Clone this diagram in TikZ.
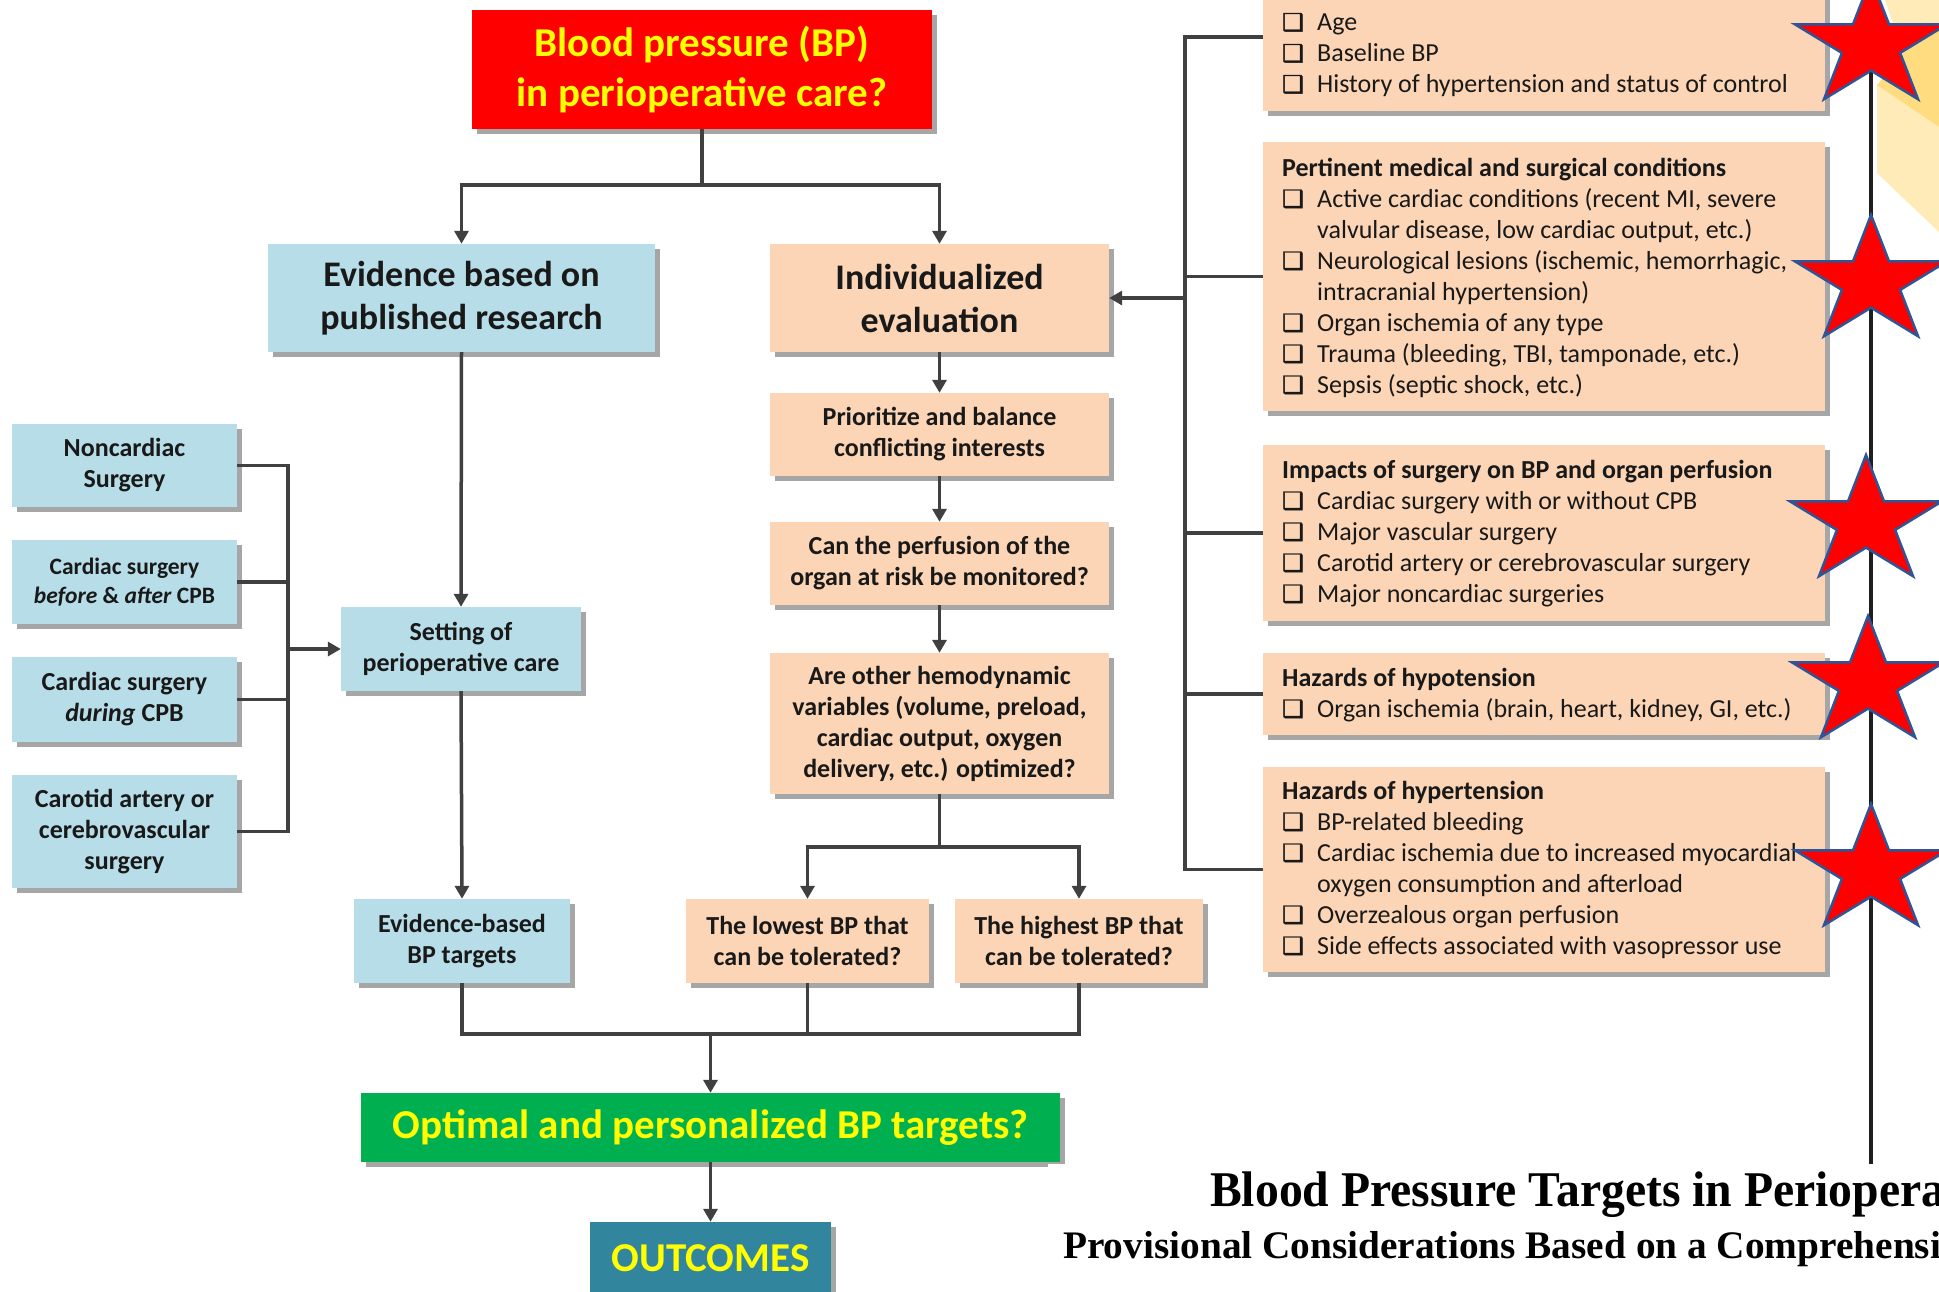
\documentclass[tikz,border=0pt]{standalone}
\usepackage{fontspec}
\usepackage{graphicx}
\setmainfont{Carlito}
\newfontfamily\djv[FakeBold=1.6]{DejaVu Sans}
\newfontfamily\ttlfont{Liberation Serif}
\usetikzlibrary{arrows.meta,shadows,calc}
\definecolor{cred}{HTML}{FF0000}
\definecolor{cyel}{HTML}{FFFF00}
\definecolor{cblue}{HTML}{B7DEE8}
\definecolor{corange}{HTML}{FBD5B5}
\definecolor{cgreen}{HTML}{00B050}
\definecolor{cteal}{HTML}{31859C}
\definecolor{cline}{HTML}{404040}
\definecolor{cstar}{HTML}{2F5597}
\definecolor{ytl}{HTML}{FFEBB8}
\definecolor{ytd}{HTML}{FFDC80}
\newcommand\chk{\makebox[35pt][l]{\djv\fontsize{24}{24}\selectfont ❑}}
\newcommand\ind{\hspace*{35pt}}
\newcommand\mystar[2]{%
  \draw[fill=cred, draw=cstar, line width=2.5pt, line join=miter]
    plot[samples at={0,...,9}, variable=\k]
    ({#1 + ifthenelse(mod(\k,2)==0,80,30.6)*cos(-90+36*\k)},
     {#2 + ifthenelse(mod(\k,2)==0,67,25.6)*sin(-90+36*\k)}) -- cycle;}
\begin{document}
\begin{tikzpicture}[x=1pt,y=-1pt,
  box/.style={inner sep=0pt, align=center, font=\bfseries\fontsize{26}{31}\selectfont, text=black!90,
    drop shadow={shadow xshift=5pt, shadow yshift=-5pt, fill=black, opacity=0.35}},
  bluebox/.style={box, fill=cblue},
  orbox/.style={box, fill=corange},
  conn/.style={line width=3.5pt, draw=cline},
  arr/.style={conn, -{Triangle[length=13pt,width=14pt]}},
  rtxt/.style={inner sep=0pt, anchor=base west, font=\fontsize{26}{31}\selectfont, text=black!90},
]
\useasboundingbox (0,0) rectangle (1939,1291);
\clip (0,0) rectangle (1939,1291);
\fill[white] (0,0) rectangle (1939,1291);

% decorative yellow shape
\fill[ytl] (1877,85) -- (1877,173) -- (1939,232) -- (1939,127) -- cycle;
\fill[ytl] (1885,0) -- (1939,0) -- (1939,30) -- (1903,53) -- cycle;
\fill[ytd] (1877,85) -- (1903,53) -- (1939,30) -- (1939,127) -- cycle;

% main flow boxes
\node[box, fill=cred, text=cyel, font=\bfseries\fontsize{41}{49.5}\selectfont,
  minimum width=460pt, minimum height=119pt] (bp) at (702,69.5)
  {Blood pressure (BP)\\in perioperative care?};
\node[bluebox, font=\bfseries\fontsize{36}{43}\selectfont, minimum width=387pt, minimum height=108pt]
  (eb) at (461.5,298) {Evidence based on\\published research};
\node[orbox, font=\bfseries\fontsize{36}{43}\selectfont, minimum width=339pt, minimum height=108pt]
  (ie) at (939.5,298) {Individualized\\evaluation};
\node[orbox, minimum width=339pt, minimum height=83pt] (pr) at (939.5,434.5)
  {Prioritize and balance\\conflicting interests};
\node[orbox, minimum width=339pt, minimum height=83pt] (cp) at (939.5,563.5)
  {Can the perfusion of the\\organ at risk be monitored?};
\node[orbox, minimum width=339pt, minimum height=141pt] (ao) at (939.5,723.5)
  {Are other hemodynamic\\variables (volume, preload,\\cardiac output, oxygen\\delivery, etc.) optimized?};
\node[orbox, minimum width=243pt, minimum height=84pt] (lo) at (807.5,941)
  {The lowest BP that\\can be tolerated?};
\node[orbox, minimum width=248pt, minimum height=84pt] (hi) at (1079,941)
  {The highest BP that\\can be tolerated?};
\node[bluebox, minimum width=216pt, minimum height=84pt] (et) at (462,941)
  {Evidence-based\\BP targets};
\node[bluebox, minimum width=240pt, minimum height=84pt] (st) at (461,649)
  {Setting of\\perioperative care};
\node[bluebox, minimum width=225pt, minimum height=83pt] (nc) at (124.5,465.5)
  {Noncardiac\\Surgery};
\node[bluebox, font=\bfseries\fontsize{23.5}{28.5}\selectfont, minimum width=225pt, minimum height=84pt] (cb) at (124.5,582)
  {Cardiac surgery\\\textit{before} \& \textit{after} CPB};
\node[bluebox, minimum width=225pt, minimum height=85pt] (cd) at (124.5,699.5)
  {Cardiac surgery\\\textit{during} CPB};
\node[bluebox, minimum width=225pt, minimum height=113pt] (ca) at (124.5,831.5)
  {Carotid artery or\\cerebrovascular\\surgery};
\node[box, fill=cgreen, text=cyel, font=\bfseries\fontsize{41}{49}\selectfont,
  minimum width=699pt, minimum height=69pt] (gr) at (710.5,1127.5)
  {Optimal and personalized BP targets?};
\node[box, fill=cteal, text=cyel, font=\bfseries\fontsize{41}{49}\selectfont,
  minimum width=241pt, minimum height=72pt] (oc) at (710.5,1258)
  {OUTCOMES};

% right-hand boxes
\node[orbox, minimum width=562pt, minimum height=148pt] (r1) at (1544,37) {};
\node[orbox, minimum width=562pt, minimum height=269pt] (r2) at (1544,276.5) {};
\node[orbox, minimum width=562pt, minimum height=176pt] (r3) at (1544,533) {};
\node[orbox, minimum width=562pt, minimum height=82pt] (r4) at (1544,694) {};
\node[orbox, minimum width=562pt, minimum height=205pt] (r5) at (1544,869.5) {};

\node[rtxt] (t1) at (1282,-0.5) {\parbox[t]{560pt}{\raggedright
  {\bfseries Baseline assessment}\\
  \chk Age\\
  \chk Baseline BP\\
  \chk History of hypertension and status of control}};
\node[rtxt] (t2) at (1282,176) {\parbox[t]{560pt}{\raggedright
  {\bfseries Pertinent medical and surgical conditions}\\
  \chk Active cardiac conditions (recent MI, severe\\
  \ind valvular disease, low cardiac output, etc.)\\
  \chk Neurological lesions (ischemic, hemorrhagic,\\
  \ind intracranial hypertension)\\
  \chk Organ ischemia of any type\\
  \chk Trauma (bleeding, TBI, tamponade, etc.)\\
  \chk Sepsis (septic shock, etc.)}};
\node[rtxt] (t3) at (1282,478) {\parbox[t]{560pt}{\raggedright
  {\bfseries Impacts of surgery on BP and organ perfusion}\\
  \chk Cardiac surgery with or without CPB\\
  \chk Major vascular surgery\\
  \chk Carotid artery or cerebrovascular surgery\\
  \chk Major noncardiac surgeries}};
\node[rtxt] (t4) at (1282,686) {\parbox[t]{560pt}{\raggedright
  {\bfseries Hazards of hypotension}\\
  \chk Organ ischemia (brain, heart, kidney, GI, etc.)}};
\node[rtxt] (t5) at (1282,799) {\parbox[t]{560pt}{\raggedright
  {\bfseries Hazards of hypertension}\\
  \chk BP-related bleeding\\
  \chk Cardiac ischemia due to increased myocardial\\
  \ind oxygen consumption and afterload\\
  \chk Overzealous organ perfusion\\
  \chk Side effects associated with vasopressor use}};

% connectors
\coordinate (j1) at (702,185);
\draw[conn] (bp.south) -- (j1);
\draw[arr] (j1) -| (eb.north);
\draw[arr] (j1) -| (ie.north);
\draw[arr] (eb.south) -- (st.north);
\draw[arr] (st.south) -- (et.north);

\coordinate (lbus) at (288,647);
\draw[conn] (nc.east) -- (nc.east -| lbus) -- (ca.east -| lbus) -- (ca.east);
\draw[conn] (cb.east) -- (cb.east -| lbus);
\draw[conn] (cd.east) -- (cd.east -| lbus);
\draw[arr] (st.west -| lbus) -- (st.west);

\draw[arr] (ie.south) -- (pr.north);
\draw[arr] (pr.south) -- (cp.north);
\draw[arr] (cp.south) -- (ao.north);
\coordinate (j2) at (939.5,847);
\draw[conn] (ao.south) -- (j2);
\draw[arr] (j2) -| (lo.north);
\draw[arr] (j2) -| (hi.north);

\coordinate (j3) at (710.5,1034);
\draw[conn] (et.south) |- (hi.south |- j3) -- (hi.south);
\draw[conn] (lo.south) -- (lo.south |- j3);
\draw[arr] (j3) -- (gr.north);
\draw[arr] (gr.south) -- (oc.north);

\coordinate (rb0) at (1185,298);
\coordinate (rbt) at (1185,37);
\coordinate (rbb) at (1185,869.5);
\draw[conn] (r1.west) -- (rbt) -- (rbb) -- (r5.west);
\draw[conn] (r2.west) -- (r2.west -| rbt);
\draw[conn] (r3.west) -- (r3.west -| rbt);
\draw[conn] (r4.west) -- (r4.west -| rbt);
\draw[arr] (rb0) -- (ie.east);

% title panel
\fill[white] (1048,1164) rectangle (1939,1291);
\node[anchor=base west, inner sep=0pt] (ttl1) at (1210,1206)
  {\resizebox{735pt}{\height}{\ttlfont\bfseries\fontsize{50}{50}\selectfont Blood Pressure Targets in Periopera}};
\node[anchor=base west, inner sep=0pt] (ttl2) at (1063,1258)
  {\resizebox{878pt}{\height}{\ttlfont\bfseries\fontsize{39}{39}\selectfont Provisional Considerations Based on a Comprehensi}};

% vertical line and stars
\coordinate (vt) at (1871,45);
\coordinate (vb) at (1871,1164);
\draw[line width=3.5pt, draw=black!88] (vt) -- (vb);
\mystar{1871}{45}
\mystar{1871}{282}
\mystar{1866}{522}
\mystar{1868}{683}
\mystar{1871}{871}
\end{tikzpicture}
\end{document}
